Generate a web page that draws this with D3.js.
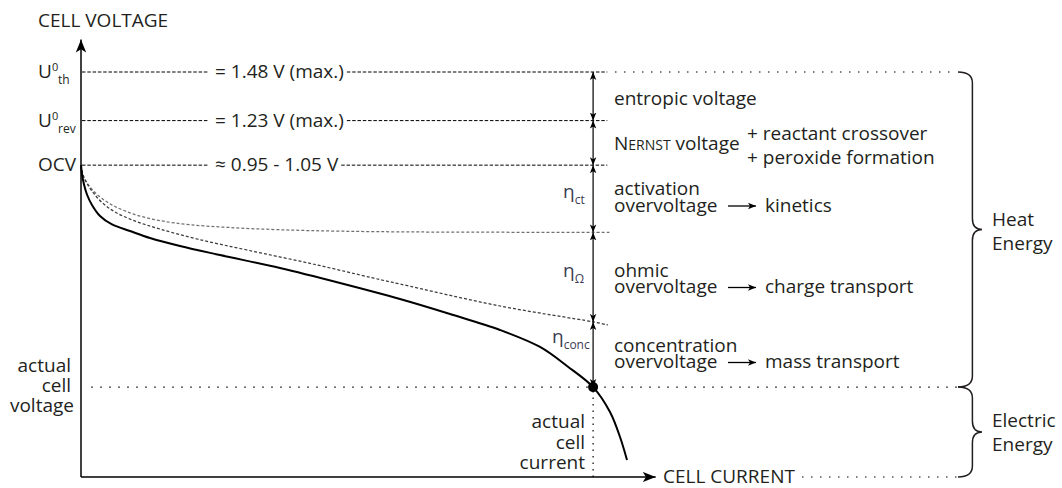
<!DOCTYPE html>
<html><head><meta charset="utf-8">
<script src="https://cdn.jsdelivr.net/npm/d3@7"></script>
<style>
body{margin:0;background:#fff}
svg{display:block}
text{font-family:"Open Sans",sans-serif;fill:#231f20;font-size:19px}
</style>
</head><body><svg id="c" width="1062" height="488"></svg>
<script>
// ---------------- data (schematic units: current 0..100, voltage 0..100) ----------------
const refKeys   = ["th", "rev", "OCV"];
const refValues = [100, 88, 77];
const refTexts  = ["= 1.48 V (max.)", "= 1.23 V (max.)", "\u2248 0.95 - 1.05 V"];
const lossLevels = [100, 88, 77, 60.4, 38.3, 22.2];   // U0th, U0rev, OCV, after activation, after ohmic, actual
const actualVoltage = 22.2;
const actualCurrent = 90;

const cellCurrent = [0, 0.18, 0.53, 1.05, 1.93, 3.34, 5.45, 8.61, 12.13, 17.40, 24.43, 34.97, 45.52, 56.06, 64.85, 73.64, 80.67, 85.41, 90, 92.97, 94.73, 95.96];
const cellVoltage = [77, 74.7, 72.2, 69.75, 67.16, 64.44, 62.35, 60.74, 59.01, 57.04, 54.81, 51.60, 47.90, 43.95, 40.25, 36.30, 32.10, 27.41, 22.2, 16.05, 9.88, 4.20];

const ohmicCurrent = [0, 0.35, 1.05, 2.11, 3.69, 5.98, 9.49, 13.88, 20.39, 29.17, 40.77, 51.32, 56.06, 73.64, 90, 92.62];
const ohmicVoltage = [77, 74.44, 72.47, 70.25, 67.78, 65.43, 63.21, 61.23, 58.77, 56.05, 52.59, 49.14, 47.65, 42.22, 38.3, 37.53];

const actCurrent = [0, 0.35, 1.05, 2.11, 3.69, 5.98, 9.49, 13.88, 19.16, 26.19, 34.97, 45.52, 59.58, 92.97];
const actVoltage = [77, 74.69, 72.72, 70.74, 68.77, 66.79, 64.8, 63.3, 62.3, 61.6, 61.05, 60.7, 60.5, 60.4];

// ---------------- drawing ----------------
const svg = d3.select("#c");
const sx = d3.scaleLinear().domain([0, 100]).range([81, 650]);
const sy = d3.scaleLinear().domain([0, 100]).range([477, 72]);
const ink = "#231f20";

const defs = svg.append("defs");
function marker(id, len, wid, color) {
  defs.append("marker").attr("id", id)
    .attr("viewBox", "0 -5 10 10").attr("refX", 10).attr("refY", 0)
    .attr("markerUnits", "userSpaceOnUse")
    .attr("markerWidth", len).attr("markerHeight", wid * 10 / 8)
    .attr("orient", "auto-start-reverse")
    .append("path").attr("d", "M0,-4L10,0L0,4L2.5,0Z").attr("fill", color);
}
marker("axh", 13, 11, "#000");
marker("sh", 8, 7, "#000");

// axes
svg.append("line").attr("x1", sx(0)).attr("y1", sy(0)).attr("x2", sx(0)).attr("y2", sy(108))
  .attr("stroke", "#000").attr("stroke-width", 1.5).attr("marker-end", "url(#axh)");
svg.append("line").attr("x1", sx(0)).attr("y1", sy(0)).attr("x2", sx(101)).attr("y2", sy(0))
  .attr("stroke", "#000").attr("stroke-width", 1.5).attr("marker-end", "url(#axh)");

svg.append("text").attr("x", 38).attr("y", 27).text("CELL VOLTAGE");
svg.append("text").attr("x", 663).attr("y", 483).text("CELL CURRENT");

// reference lines with inline value labels
const dashEnd = 92.5;
refValues.forEach((v, i) => {
  const yy = sy(v);
  const t = svg.append("text").attr("x", 215).attr("y", yy + 6).text(refTexts[i]);
  const w = t.node().getComputedTextLength();
  svg.append("line").attr("x1", sx(0) + 1).attr("x2", 208).attr("y1", yy).attr("y2", yy)
    .attr("stroke", "#000").attr("stroke-width", 1).attr("stroke-dasharray", "3.5,1.8");
  svg.append("line").attr("x1", 215 + w + 3).attr("x2", sx(dashEnd)).attr("y1", yy).attr("y2", yy)
    .attr("stroke", "#000").attr("stroke-width", 1).attr("stroke-dasharray", "3.5,1.8");
});
// left labels U0th, U0rev, OCV
[0, 1].forEach(i => {
  const yy = sy(refValues[i]) + 6;
  const g = svg.append("text").attr("x", 38).attr("y", yy);
  g.append("tspan").text("U");
  g.append("tspan").attr("x", 52).attr("y", yy - 7).style("font-size", "11px").text("0");
  g.append("tspan").attr("x", 58).attr("y", yy + 6).style("font-size", "12px").text(refKeys[i]);
});
svg.append("text").attr("x", 38).attr("y", sy(77) + 6).text("OCV");

// dotted extensions
const dotted = "1.5,7.5";
svg.append("line").attr("x1", 615).attr("x2", 957).attr("y1", sy(100)).attr("y2", sy(100))
  .attr("stroke", "#000").attr("stroke-width", 1.2).attr("stroke-dasharray", dotted);
svg.append("line").attr("x1", sx(1.8)).attr("x2", 957).attr("y1", sy(actualVoltage)).attr("y2", sy(actualVoltage))
  .attr("stroke", "#000").attr("stroke-width", 1.2).attr("stroke-dasharray", dotted);
svg.append("line").attr("x1", sx(actualCurrent)).attr("x2", sx(actualCurrent)).attr("y1", sy(actualVoltage) + 4).attr("y2", sy(0))
  .attr("stroke", "#000").attr("stroke-width", 1.2).attr("stroke-dasharray", "1.5,5");
svg.append("line").attr("x1", 802).attr("x2", 957).attr("y1", sy(0)).attr("y2", sy(0))
  .attr("stroke", "#000").attr("stroke-width", 1.2).attr("stroke-dasharray", dotted);

// curves
const line = d3.line().x(d => sx(d[0])).y(d => sy(d[1])).curve(d3.curveCatmullRom.alpha(0.5));
svg.append("path").datum(d3.zip(actCurrent, actVoltage)).attr("d", line)
  .attr("fill", "none").attr("stroke", "#707070").attr("stroke-width", 1.25).attr("stroke-dasharray", "3,2");
svg.append("path").datum(d3.zip(ohmicCurrent, ohmicVoltage)).attr("d", line)
  .attr("fill", "none").attr("stroke", "#3c3c3c").attr("stroke-width", 1.25).attr("stroke-dasharray", "3,2");
svg.append("path").datum(d3.zip(cellCurrent, cellVoltage)).attr("d", line)
  .attr("fill", "none").attr("stroke", "#000").attr("stroke-width", 2);

// double arrows for each voltage share
d3.pairs(lossLevels).forEach(([a, b]) => {
  svg.append("line").attr("x1", sx(actualCurrent)).attr("x2", sx(actualCurrent))
    .attr("y1", sy(a)).attr("y2", sy(b))
    .attr("stroke", "#000").attr("stroke-width", 1.2)
    .attr("marker-start", "url(#sh)").attr("marker-end", "url(#sh)");
});
svg.append("circle").attr("cx", sx(actualCurrent)).attr("cy", sy(actualVoltage)).attr("r", 5).attr("fill", "#000");

// eta labels
function eta(x, y, sub) {
  const t = svg.append("text").attr("x", x).attr("y", y).style("fill", "#3b3b4f");
  t.append("tspan").text("\u03B7");
  t.append("tspan").attr("dy", 6).style("font-size", "12px").text(sub);
}
eta(563, 198, "ct");
eta(563, 277, "\u03A9");
eta(552, 343, "conc");

// right column texts
const tx = 614;
svg.append("text").attr("x", tx).attr("y", 105).text("entropic voltage");
const nv = svg.append("text").attr("x", tx).attr("y", 150);
nv.append("tspan").text("N");
nv.append("tspan").style("font-size", "14px").text("ERNST");
nv.append("tspan").text(" voltage");
svg.append("text").attr("x", 747).attr("y", 140).text("+ reactant crossover");
svg.append("text").attr("x", 747).attr("y", 164).text("+ peroxide formation");

const blocks = [
  {first: "activation", base: 195, target: "kinetics"},
  {first: "ohmic", base: 276.5, target: "charge transport"},
  {first: "concentration", base: 351.5, target: "mass transport"}
];
blocks.forEach(b => {
  svg.append("text").attr("x", tx).attr("y", b.base).text(b.first);
  svg.append("text").attr("x", tx).attr("y", b.base + 16.5).text("overvoltage");
  svg.append("line").attr("x1", 728).attr("x2", 756).attr("y1", b.base + 11).attr("y2", b.base + 11)
    .attr("stroke", "#000").attr("stroke-width", 1.3).attr("marker-end", "url(#sh)");
  svg.append("text").attr("x", 765).attr("y", b.base + 16.5).text(b.target);
});

// left / bottom annotations
["actual", "cell", "voltage"].forEach((s, i) => {
  svg.append("text").attr("x", i === 2 ? 74 : 71).attr("y", 372 + i * 20).attr("text-anchor", "end").text(s);
});
["actual", "cell", "current"].forEach((s, i) => {
  svg.append("text").attr("x", 585).attr("y", 428 + i * 20.5).attr("text-anchor", "end").text(s);
});

// braces
function brace(x0, y0, y1, w) {
  const x1 = x0 + w * 0.6, x2 = x0 + w, ym = (y0 + y1) / 2, r = 11;
  return `M${x0},${y0} Q${x1},${y0} ${x1},${y0 + r} L${x1},${ym - r} Q${x1},${ym} ${x2},${ym}` +
         ` Q${x1},${ym} ${x1},${ym + r} L${x1},${y1 - r} Q${x1},${y1} ${x0},${y1}`;
}
svg.append("path").attr("d", brace(958, sy(100), sy(actualVoltage), 24))
  .attr("fill", "none").attr("stroke", ink).attr("stroke-width", 1.5);
svg.append("path").attr("d", brace(958, sy(actualVoltage), sy(0), 24))
  .attr("fill", "none").attr("stroke", ink).attr("stroke-width", 1.5);
svg.append("text").attr("x", 992).attr("y", 226).text("Heat");
svg.append("text").attr("x", 992).attr("y", 250).text("Energy");
svg.append("text").attr("x", 992).attr("y", 427).text("Electric");
svg.append("text").attr("x", 992).attr("y", 451).text("Energy");
</script>
</body></html>
